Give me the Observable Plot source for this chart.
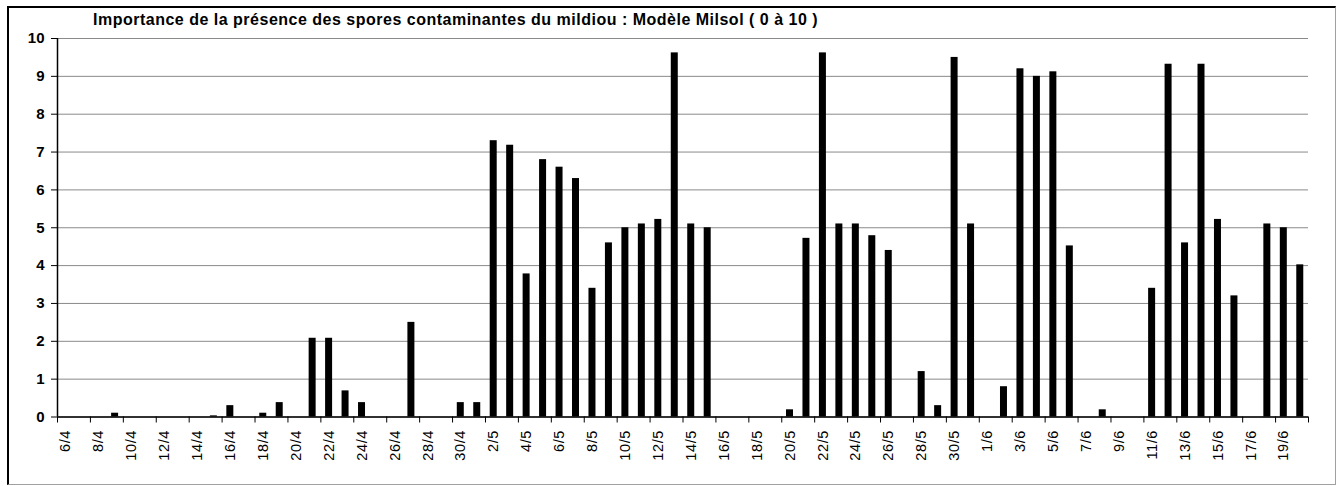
<!DOCTYPE html>
<html><head><meta charset="utf-8">
<script src="https://cdn.jsdelivr.net/npm/d3@7"></script>
<script src="https://cdn.jsdelivr.net/npm/@observablehq/plot@0.6"></script>
<style>
html,body{margin:0;padding:0;background:#fff;overflow:hidden;}
#wrap{position:relative;width:1337px;height:486px;}
#frame{position:absolute;left:7px;top:6px;width:1329px;height:479px;box-sizing:border-box;border-top:2px solid #000;border-left:2px solid #000;border-right:1px solid #a0a0a0;border-bottom:1px solid #a0a0a0;}
#title{position:absolute;left:93px;top:11px;font:bold 16px Arial,"Liberation Sans",sans-serif;line-height:18px;letter-spacing:0.5px;white-space:nowrap;color:#000;}
#chart{position:absolute;left:0;top:0;}
g[aria-label="x-axis tick label"] text{letter-spacing:0.6px;}
</style></head>
<body>
<div id="wrap">
<div id="frame"></div>
<div id="chart"></div>
<div id="title">Importance de la présence des spores contaminantes du mildiou : Modèle Milsol ( 0 à 10 )</div>
</div>
<script>
const dates = [
 "6/4","7/4","8/4","9/4","10/4","11/4","12/4","13/4","14/4","15/4","16/4","17/4","18/4","19/4","20/4",
 "21/4","22/4","23/4","24/4","25/4","26/4","27/4","28/4","29/4","30/4",
 "1/5","2/5","3/5","4/5","5/5","6/5","7/5","8/5","9/5","10/5","11/5","12/5","13/5","14/5","15/5",
 "16/5","17/5","18/5","19/5","20/5","21/5","22/5","23/5","24/5","25/5","26/5","27/5","28/5","29/5","30/5","31/5",
 "1/6","2/6","3/6","4/6","5/6","6/6","7/6","8/6","9/6","10/6","11/6","12/6","13/6","14/6","15/6",
 "16/6","17/6","18/6","19/6","20/6"
];
const values = [
 0,0,0,0.1,0,0,0,0,0,0.03,0.3,0,0.1,0.38,0,
 2.08,2.08,0.69,0.38,0,0,2.5,0,0,0.38,
 0.38,7.3,7.18,3.78,6.8,6.6,6.3,3.4,4.6,5.0,5.1,5.22,9.62,5.1,5.0,
 0,0,0,0,0.19,4.72,9.62,5.1,5.1,4.79,4.4,0,1.2,0.3,9.5,5.1,
 0,0.8,9.2,9.0,9.12,4.52,0,0.19,0,0,3.4,9.32,4.6,9.32,5.22,
 3.2,0,5.1,5.0,4.02
];
const yTicks = [0,1,2,3,4,5,6,7,8,9,10];
const xTickLabels = dates.filter((d, i) => i % 2 === 0);

const table = dates.map((d, i) => ({date: d, value: values[i]}));

const W = 1337, H = 486, mL = 57, mR = 29, mT = 38, mB = 69.5;
const step = (W - mL - mR) / dates.length;
const pad = 0.575;

const chart = Plot.plot({
  width: W, height: H,
  marginLeft: mL, marginRight: mR, marginTop: mT, marginBottom: mB,
  style: {fontFamily: "Arial, 'Liberation Sans', sans-serif", background: "transparent", color: "#000"},
  x: {type: "band", domain: dates, paddingInner: pad, paddingOuter: pad / 2, align: 0.5, axis: null},
  y: {domain: [0, 10], axis: null},
  marks: [
    Plot.gridY({ticks: yTicks, stroke: "#8a8a8a", strokeOpacity: 1}),
    Plot.barY(table, {x: "date", y: "value", fill: "#000"}),
    Plot.ruleY([0], {stroke: "#000", strokeWidth: 1.5}),
    Plot.ruleX([dates[0]], {y1: 0, y2: 10, dx: -step / 2, stroke: "#000", strokeWidth: 1.5}),
    Plot.axisY({ticks: yTicks, tickSize: 6, tickPadding: 7, fontSize: 15, fontWeight: "bold", stroke: "#000", label: null}),
    Plot.axisX({ticks: xTickLabels, tickSize: 0, tickRotate: -90, tickPadding: 13, fontSize: 14.5, label: null}),
    Plot.axisX({ticks: xTickLabels, tickSize: 6, tickFormat: () => "", dx: -step / 2, stroke: "#000", label: null}),
    Plot.axisX({ticks: [dates[dates.length - 1]], tickSize: 6, tickFormat: () => "", dx: step / 2, stroke: "#000", label: null})
  ]
});
document.getElementById("chart").appendChild(chart);
</script>
</body></html>
